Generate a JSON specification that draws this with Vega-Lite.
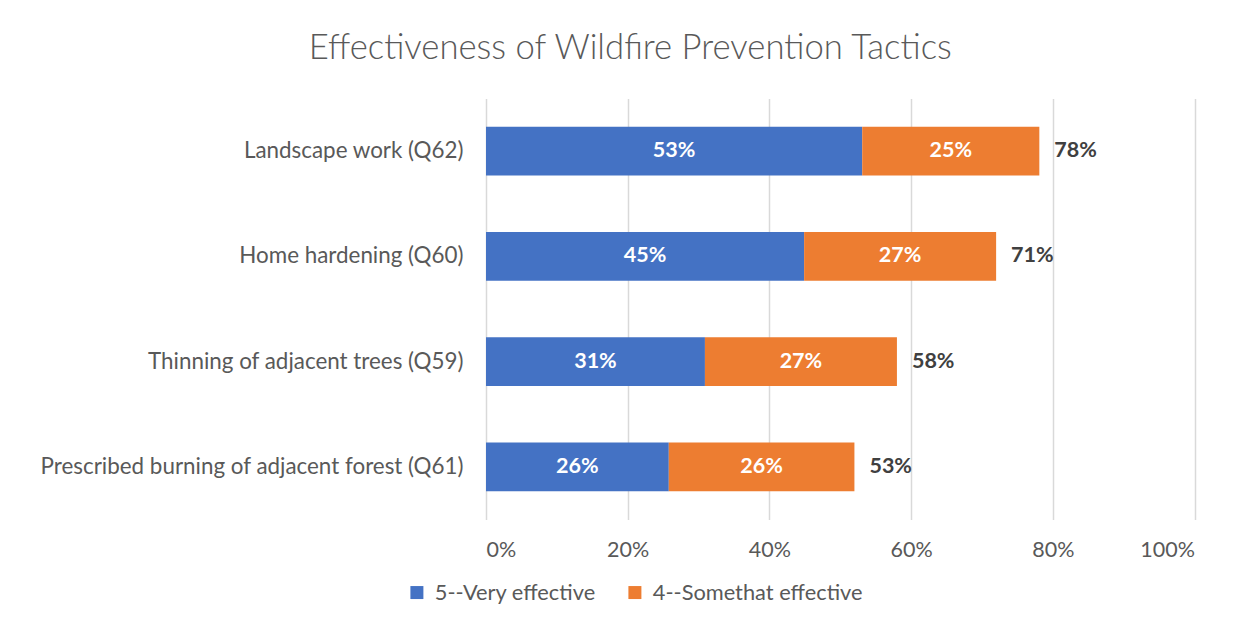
{
  "$schema": "https://vega.github.io/schema/vega-lite/v6.json",
  "width": 708.5,
  "height": 421,
  "autosize": {"type": "none"},
  "padding": {"left": 486, "top": 98.5, "right": 58.5, "bottom": 108.5},
  "background": "white",
  "config": {"view": {"stroke": null}},
  "title": {
    "text": "Effectiveness of Wildfire Prevention Tactics",
    "anchor": "middle",
    "dx": -210,
    "offset": 32,
    "fontSize": 34.7,
    "font": "Lato",
    "fontWeight": 300,
    "color": "#595959"
  },
  "data": {
    "values": [
      {"category": "Landscape work (Q62)", "series": "5--Very effective", "rank": 1, "value": 0.531, "total": 0.78},
      {"category": "Landscape work (Q62)", "series": "4--Somethat effective", "rank": 2, "value": 0.25, "total": 0.78},
      {"category": "Home hardening (Q60)", "series": "5--Very effective", "rank": 1, "value": 0.449, "total": 0.71},
      {"category": "Home hardening (Q60)", "series": "4--Somethat effective", "rank": 2, "value": 0.271, "total": 0.71},
      {"category": "Thinning of adjacent trees (Q59)", "series": "5--Very effective", "rank": 1, "value": 0.309, "total": 0.58},
      {"category": "Thinning of adjacent trees (Q59)", "series": "4--Somethat effective", "rank": 2, "value": 0.271, "total": 0.58},
      {"category": "Prescribed burning of adjacent forest (Q61)", "series": "5--Very effective", "rank": 1, "value": 0.258, "total": 0.53},
      {"category": "Prescribed burning of adjacent forest (Q61)", "series": "4--Somethat effective", "rank": 2, "value": 0.262, "total": 0.53}
    ]
  },
  "encoding": {
    "y": {
      "field": "category",
      "type": "nominal",
      "sort": null,
      "scale": {"paddingInner": 0.535, "paddingOuter": 0.2675},
      "axis": {
        "title": null,
        "domain": false,
        "ticks": false,
        "labelPadding": 23,
        "labelFontSize": 22.4,
        "labelFont": "Lato",
        "labelColor": "#595959",
        "labelLimit": 500
      }
    }
  },
  "layer": [
    {
      "mark": {"type": "bar"},
      "encoding": {
        "x": {
          "field": "value",
          "type": "quantitative",
          "stack": "zero",
          "scale": {"domain": [0, 1], "nice": false},
          "axis": {
            "title": null,
            "format": ".0%",
            "values": [0, 0.2, 0.4, 0.6, 0.8, 1],
            "domain": false,
            "ticks": false,
            "grid": true,
            "gridColor": "#d9d9d9",
            "gridWidth": 1.5,
            "labelPadding": 20,
            "labelFontSize": 21.5,
            "labelFont": "Lato",
            "labelColor": "#595959"
          }
        },
        "order": {"field": "rank"},
        "color": {
          "field": "series",
          "type": "nominal",
          "sort": ["5--Very effective", "4--Somethat effective"],
          "scale": {"domain": ["5--Very effective", "4--Somethat effective"], "range": ["#4472C4", "#ED7D31"]},
          "legend": {
            "title": null,
            "orient": "none",
            "direction": "horizontal",
            "legendX": -80,
            "legendY": 483,
            "symbolType": "square",
            "symbolSize": 169,
            "symbolStrokeWidth": 0,
            "labelFontSize": 21.8,
            "labelFont": "Lato",
            "labelColor": "#595959",
            "labelOffset": 7,
            "columnPadding": 28,
            "labelLimit": 400
          }
        }
      }
    },
    {
      "transform": [
        {"stack": "value", "groupby": ["category"], "sort": [{"field": "rank"}], "as": ["v0", "v1"]},
        {"calculate": "(datum.v0 + datum.v1) / 2", "as": "mid"}
      ],
      "mark": {"type": "text", "color": "white", "fontWeight": "bold", "fontSize": 21.5, "font": "Lato", "baseline": "middle"},
      "encoding": {
        "x": {"field": "mid", "type": "quantitative"},
        "text": {"field": "value", "type": "quantitative", "format": ".0%"}
      }
    },
    {
      "transform": [
        {"aggregate": [{"op": "sum", "field": "value", "as": "end"}, {"op": "max", "field": "total", "as": "total"}], "groupby": ["category"]}
      ],
      "mark": {"type": "text", "color": "#404040", "fontWeight": "bold", "fontSize": 21.5, "font": "Lato", "align": "left", "baseline": "middle", "dx": 15},
      "encoding": {
        "x": {"field": "end", "type": "quantitative"},
        "text": {"field": "total", "type": "quantitative", "format": ".0%"}
      }
    }
  ]
}
